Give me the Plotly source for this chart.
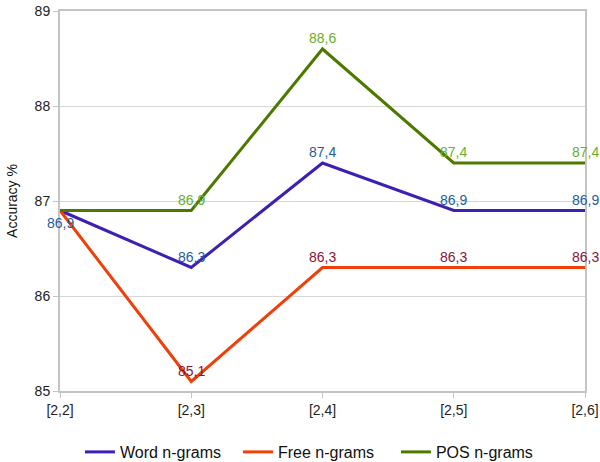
import plotly.graph_objects as go

categories = ["[2,2]", "[2,3]", "[2,4]", "[2,5]", "[2,6]"]
word_ngrams = [86.9, 86.3, 87.4, 86.9, 86.9]
free_ngrams = [86.9, 85.1, 86.3, 86.3, 86.3]
pos_ngrams = [86.9, 86.9, 88.6, 87.4, 87.4]
y_ticks = [85, 86, 87, 88, 89]

FONT = "Liberation Sans, Arial, sans-serif"
xs = list(range(len(categories)))

series = [
    ("Word n-grams", word_ngrams, "#3d1fb3", "#1f5c9e", [1, 1, 1, 1, 1]),
    ("Free n-grams", free_ngrams, "#f0400a", "#8a1438", [0, 1, 1, 1, 1]),
    ("POS n-grams", pos_ngrams, "#4c7a00", "#6aae2e", [0, 1, 1, 1, 1]),
]

fig = go.Figure()
for name, vals, lc, tc, show in series:
    fig.add_trace(go.Scatter(x=xs, y=vals, name=name, mode="lines",
                             line=dict(color=lc, width=3)))
    for i, (xv, v, s) in enumerate(zip(xs, vals, show)):
        if not s:
            continue
        fig.add_annotation(x=xv, y=v, text=f"{v:.1f}".replace(".", ","),
                           showarrow=False, yshift=(-12 if i == 0 else 11),
                           font=dict(color=tc, size=14, family=FONT))

fig.update_layout(
    width=600, height=462,
    margin=dict(l=60, r=15, t=11, b=71, autoexpand=False),
    paper_bgcolor="white", plot_bgcolor="white",
    font=dict(family=FONT, size=14, color="#222222"),
    showlegend=True,
    legend=dict(orientation="h", x=0.038, xanchor="left", y=-0.1605, yanchor="middle",
                font=dict(size=16, family=FONT, color="#111111"),
                entrywidth=113, bgcolor="rgba(0,0,0,0)"),
    xaxis=dict(
        tickmode="array", tickvals=xs, ticktext=categories, automargin=False,
        range=[0, len(categories) - 1], showgrid=False, zeroline=False,
        showline=True, linecolor="#c4c4c4", linewidth=2, mirror=True,
        ticks="outside", ticklen=5, tickcolor="#c4c4c4", tickwidth=1,
        ticklabeloverflow="allow",
        tickfont=dict(size=14, color="#222222")),
    yaxis=dict(
        tickmode="array", tickvals=y_ticks, range=[85, 89], automargin=False,
        showgrid=True, gridcolor="#d6d6d6", gridwidth=1, zeroline=False,
        showline=True, linecolor="#c4c4c4", linewidth=2, mirror=True,
        ticks="outside", ticklen=5, tickcolor="#c4c4c4", tickwidth=1,
        ticklabeloverflow="allow",
        tickfont=dict(size=14, color="#222222"),
        title=dict(text="Accuracy %", font=dict(size=14, color="#111111"), standoff=14)),
)

fig.write_html("out.html", config={"displayModeBar": False},
               post_script="document.body.style.margin='0';document.body.style.overflow='hidden';")
